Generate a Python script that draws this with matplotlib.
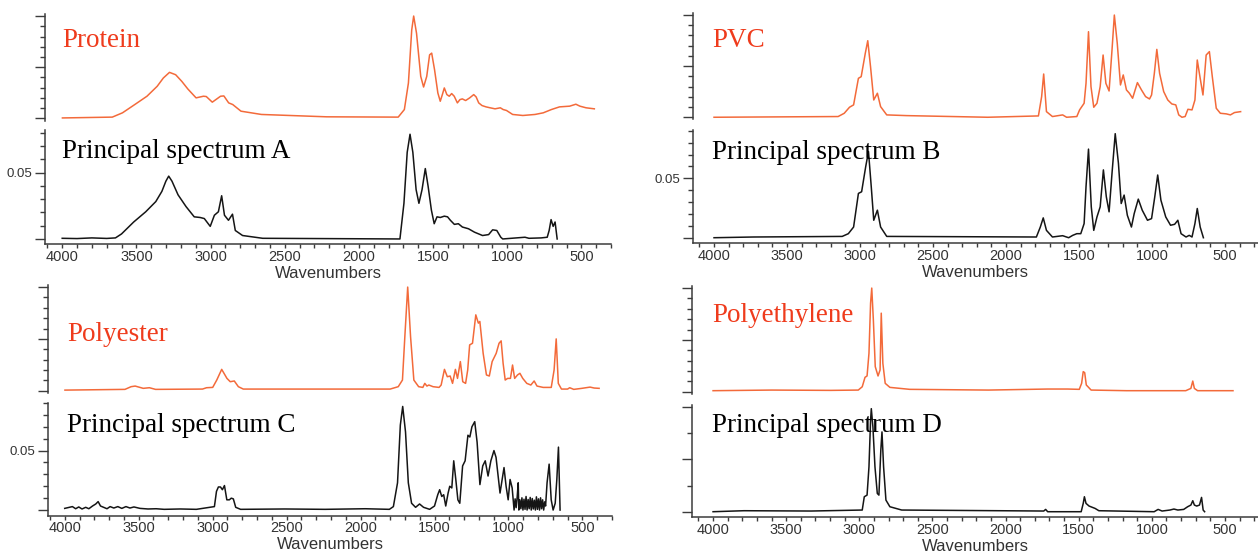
import numpy as np
import matplotlib
matplotlib.use("Agg")
import matplotlib.pyplot as plt
from matplotlib.ticker import FixedLocator, NullFormatter
from matplotlib.transforms import Bbox, TransformedBbox

W, H = 1258, 555

# reference spectra (orange), normalised absorbance
protein_wn = [4000, 3668, 3600, 3518, 3437, 3369, 3328, 3287, 3246, 3205, 3165, 3110, 3061, 3042, 3002,
              2947, 2925, 2893, 2866, 2811, 2675, 2240, 1764, 1723, 1696, 1674, 1661, 1642, 1614, 1595,
              1574, 1555, 1541, 1522, 1500, 1484, 1470, 1457, 1440, 1424, 1408, 1391, 1370, 1353, 1337,
              1315, 1288, 1261, 1245, 1228, 1206, 1179, 1152, 1119, 1084, 1065, 1043, 1002, 934, 853,
              798, 744, 690, 622, 581, 554, 513, 458]
protein_abs = [0.005, 0.013, 0.055, 0.136, 0.217, 0.314, 0.395, 0.450, 0.427, 0.362, 0.288, 0.201, 0.217,
               0.214, 0.159, 0.217, 0.220, 0.152, 0.136, 0.071, 0.039, 0.016, 0.013, 0.087, 0.346, 0.864,
               1.0, 0.832, 0.411, 0.307, 0.411, 0.621, 0.638, 0.476, 0.249, 0.168, 0.233, 0.298, 0.233,
               0.217, 0.243, 0.217, 0.152, 0.184, 0.191, 0.175, 0.201, 0.233, 0.210, 0.152, 0.126, 0.113,
               0.104, 0.094, 0.104, 0.087, 0.078, 0.039, 0.029, 0.039, 0.055, 0.087, 0.113, 0.120, 0.139,
               0.120, 0.104, 0.094]

pvc_wn = [4000, 3150, 3108, 3072, 3044, 3011, 2992, 2964, 2947, 2928, 2906, 2881, 2859, 2817, 2679, 2125,
          1778, 1756, 1742, 1723, 1682, 1612, 1585, 1515, 1496, 1465, 1452, 1435, 1418, 1399, 1377, 1355,
          1335, 1316, 1294, 1274, 1258, 1238, 1216, 1197, 1175, 1155, 1133, 1100, 1072, 1044, 1017, 1003,
          984, 967, 948, 920, 892, 864, 837, 817, 795, 773, 754, 726, 706, 690, 670, 651, 629, 607, 587,
          560, 532, 491, 463, 435, 393]
pvc_abs = [0.0, 0.007, 0.039, 0.098, 0.121, 0.381, 0.397, 0.625, 0.749, 0.495, 0.169, 0.235, 0.104, 0.023,
           0.016, 0.0, 0.013, 0.202, 0.423, 0.055, 0.007, 0.023, 0.0, 0.007, 0.072, 0.137, 0.332, 0.837,
           0.300, 0.098, 0.137, 0.300, 0.609, 0.332, 0.257, 0.658, 1.0, 0.723, 0.316, 0.414, 0.267, 0.235,
           0.186, 0.339, 0.267, 0.202, 0.179, 0.218, 0.430, 0.664, 0.430, 0.251, 0.169, 0.130, 0.121, 0.023,
           0.0, 0.007, 0.078, 0.072, 0.169, 0.560, 0.381, 0.218, 0.609, 0.642, 0.397, 0.088, 0.039, 0.033,
           0.023, 0.046, 0.055]

polyester_wn = [4000, 3600, 3559, 3532, 3478, 3437, 3396, 3083, 3056, 3015, 2988, 2955, 2920, 2898, 2871,
                2844, 2811, 1832, 1778, 1750, 1734, 1715, 1696, 1674, 1642, 1614, 1601, 1587, 1574, 1546,
                1506, 1492, 1470, 1451, 1432, 1416, 1397, 1383, 1364, 1348, 1329, 1315, 1302, 1283, 1261,
                1244, 1234, 1212, 1190, 1171, 1152, 1125, 1106, 1092, 1079, 1065, 1049, 1030, 1016, 1002,
                983, 967, 948, 921, 894, 872, 853, 812, 758, 739, 725, 711, 690, 649, 635, 608, 554, 499,
                472, 439]
polyester_abs = [0.006, 0.013, 0.039, 0.045, 0.023, 0.029, 0.013, 0.016, 0.029, 0.032, 0.103, 0.206, 0.119,
                 0.087, 0.094, 0.039, 0.016, 0.016, 0.039, 0.103, 0.523, 1.0, 0.523, 0.103, 0.039, 0.032,
                 0.071, 0.045, 0.055, 0.039, 0.032, 0.055, 0.206, 0.135, 0.142, 0.071, 0.206, 0.119, 0.281,
                 0.087, 0.071, 0.2, 0.442, 0.458, 0.732, 0.652, 0.668, 0.361, 0.152, 0.142, 0.281, 0.361,
                 0.458, 0.481, 0.265, 0.103, 0.119, 0.119, 0.248, 0.119, 0.152, 0.168, 0.119, 0.071, 0.055,
                 0.094, 0.045, 0.032, 0.032, 0.2, 0.5, 0.071, 0.016, 0.016, 0.029, 0.013, 0.023, 0.035,
                 0.026, 0.023]

pe_wn = [4000, 3600, 3195, 3007, 2980, 2961, 2947, 2934, 2923, 2915, 2904, 2891, 2872, 2858, 2850, 2839,
         2823, 2791, 2656, 2117, 1712, 1577, 1496, 1480, 1469, 1459, 1448, 1415, 1173, 768, 733, 720, 709,
         687, 445]
pe_abs = [0.01, 0.016, 0.013, 0.016, 0.048, 0.139, 0.152, 0.371, 0.855, 1.0, 0.694, 0.242, 0.152, 0.21,
          0.758, 0.274, 0.081, 0.042, 0.023, 0.016, 0.026, 0.026, 0.023, 0.081, 0.194, 0.184, 0.065, 0.016,
          0.01, 0.01, 0.032, 0.103, 0.032, 0.01, 0.01]

# principal spectra (black), absorbance
specA_wn = [4000, 3900, 3800, 3700, 3641, 3600, 3518, 3437, 3369, 3328, 3301, 3282, 3260, 3219, 3165, 3110,
            3070, 3042, 3002, 2974, 2947, 2925, 2906, 2879, 2852, 2833, 2784, 2648, 1723, 1696, 1674, 1655,
            1636, 1614, 1595, 1574, 1552, 1533, 1511, 1492, 1473, 1451, 1424, 1402, 1383, 1356, 1329, 1302,
            1261, 1220, 1166, 1125, 1098, 1070, 1043, 1030, 880, 853, 771, 730, 717, 704, 690, 677, 663]
specA_abs = [0.0005, 0.0003, 0.0008, 0.0004, 0.0008, 0.0038, 0.0128, 0.0205, 0.0282, 0.0359, 0.0436, 0.0474,
             0.0436, 0.0333, 0.0244, 0.0167, 0.0162, 0.0154, 0.0095, 0.0179, 0.0205, 0.0326, 0.0179, 0.0141,
             0.0187, 0.0064, 0.0026, 0.0005, 0.0, 0.0269, 0.0654, 0.079, 0.0654, 0.0372, 0.0269, 0.0372,
             0.0531, 0.0397, 0.0218, 0.0115, 0.0167, 0.0162, 0.0172, 0.0167, 0.0141, 0.011, 0.0115, 0.009,
             0.0077, 0.0051, 0.0026, 0.0033, 0.0069, 0.0064, 0.0013, 0.0, 0.0013, 0.0005, 0.0008, 0.0013,
             0.0064, 0.0146, 0.0095, 0.0128, 0.0]

specB_wn = [4000, 3731, 3122, 3080, 3044, 3011, 2989, 2961, 2942, 2923, 2906, 2881, 2859, 2817, 1792, 1765,
            1745, 1723, 1682, 1612, 1571, 1543, 1515, 1488, 1465, 1452, 1435, 1416, 1399, 1377, 1355, 1333,
            1313, 1294, 1274, 1252, 1230, 1211, 1191, 1169, 1141, 1122, 1094, 1067, 1031, 1003, 981, 961,
            939, 906, 873, 845, 823, 801, 767, 745, 726, 706, 690, 670, 648]
specB_abs = [0.0, 0.0006, 0.0011, 0.0034, 0.009, 0.0373, 0.0387, 0.0599, 0.0726, 0.0429, 0.0147, 0.0232,
             0.009, 0.0011, 0.0006, 0.009, 0.0167, 0.0062, 0.0006, 0.0017, 0.0, 0.002, 0.0034, 0.0034,
             0.0119, 0.0429, 0.0746, 0.026, 0.0062, 0.0175, 0.026, 0.0571, 0.0345, 0.0218, 0.0542, 0.0876,
             0.0627, 0.0288, 0.0359, 0.0189, 0.009, 0.0203, 0.0325, 0.0232, 0.0147, 0.0161, 0.0345, 0.0528,
             0.0316, 0.0175, 0.0105, 0.0113, 0.0147, 0.0034, 0.0006, 0.002, 0.0006, 0.0119, 0.0246, 0.009,
             0.0]

specC_wn = [4000, 3948, 3926, 3905, 3883, 3858, 3837, 3812, 3790, 3774, 3758, 3736, 3714, 3693, 3668, 3641,
            3614, 3586, 3559, 3532, 3491, 3437, 3382, 3328, 3219, 3110, 2988, 2974, 2961, 2947, 2934, 2920,
            2904, 2887, 2874, 2860, 2844, 2811, 2512, 2240, 1968, 1805, 1778, 1750, 1731, 1715, 1696, 1677,
            1655, 1628, 1601, 1574, 1533, 1500, 1478, 1465, 1451, 1438, 1424, 1408, 1397, 1383, 1370, 1356,
            1342, 1329, 1310, 1293, 1274, 1261, 1247, 1228, 1212, 1193, 1174, 1157, 1138, 1119, 1098, 1084,
            1070, 1057, 1043, 1030, 1016, 1002, 989, 975,
            962, 955, 948, 941, 934, 930, 923, 916, 909, 902, 895, 888, 881, 874, 867, 860, 853, 846, 839,
            832, 825, 818, 811, 804, 797, 790, 783, 776, 769, 762, 755, 749,
            739, 725, 711, 698, 684, 673, 662, 651]
specC_abs = [0.0014, 0.0029, 0.0011, 0.0026, 0.0009, 0.0023, 0.0011, 0.0034, 0.0051, 0.0071, 0.0034, 0.0023,
             0.0011, 0.0029, 0.0017, 0.0029, 0.0014, 0.0029, 0.0017, 0.0026, 0.0014, 0.0009, 0.0011, 0.0006,
             0.0009, 0.0006, 0.0029, 0.0157, 0.0194, 0.0194, 0.0171, 0.0206, 0.0086, 0.0086, 0.01, 0.0094,
             0.0023, 0.0006, 0.0009, 0.0006, 0.0011, 0.0006, 0.0029, 0.0229, 0.0714, 0.0871, 0.0657, 0.0229,
             0.0057, 0.0023, 0.0051, 0.0023, 0.0006, 0.0034, 0.0129, 0.0171, 0.0114, 0.0129, 0.0034, 0.0143,
             0.02, 0.0186, 0.0414, 0.0257, 0.0086, 0.0057, 0.0371, 0.0414, 0.0629, 0.0614, 0.07, 0.0743,
             0.0571, 0.0214, 0.0371, 0.0414, 0.0286, 0.0414, 0.05, 0.0443, 0.0286, 0.0143, 0.0257, 0.0357,
             0.02, 0.0086, 0.0257, 0.0186,
             0.0, 0.0094, 0.002, 0.011, 0.0229, 0.0, 0.0086, 0.0011, 0.0103, 0.0, 0.0091, 0.0006, 0.0114,
             0.0, 0.0089, 0.0011, 0.0106, 0.0, 0.0097, 0.0009, 0.0083, 0.0, 0.0111, 0.0006, 0.0094, 0.0,
             0.0103, 0.0011, 0.0086, 0.0, 0.0069, 0.0034,
             0.0229, 0.0386, 0.0086, 0.0, 0.0057, 0.0257, 0.0529, 0.0]

specD_wn = [4000, 3789, 3330, 2980, 2966, 2947, 2934, 2923, 2918, 2907, 2893, 2877, 2866, 2853, 2845, 2834,
            2818, 2791, 2710, 1739, 1726, 1712, 1483, 1469, 1461, 1450, 1429, 1388, 1362, 984, 957, 930,
            876, 849, 822, 782, 755, 733, 720, 709, 693, 674, 660, 649, 639]
specD_abs = [0.0, 0.0019, 0.0013, 0.0032, 0.0286, 0.0317, 0.0857, 0.1746, 0.1968, 0.1619, 0.0857, 0.0349,
             0.0317, 0.1175, 0.1524, 0.0857, 0.0222, 0.0095, 0.0032, 0.0013, 0.0044, 0.0, 0.0, 0.0159,
             0.0286, 0.0159, 0.0108, 0.0063, 0.0019, 0.0, 0.0044, 0.0013, 0.0032, 0.0051, 0.0032, 0.0044,
             0.0095, 0.0127, 0.021, 0.0127, 0.0108, 0.0127, 0.0273, 0.0032, 0.0]

x_major = [4000, 3500, 3000, 2500, 2000, 1500, 1000, 500]
x_minor = [v for v in range(300, 4200, 100) if v % 500]

ORANGE = '#f36a3a'
RED_TEXT = '#ef3b1c'
INK = '#151515'
AXIS = '#3c3c3c'
LABEL = '#333333'

plt.rcParams['font.family'] = 'Liberation Sans'


def px_rect(x0, y0, x1, y1):
    return [x0 / W, 1 - y1 / H, (x1 - x0) / W, (y1 - y0) / H]


def style_left(ax):
    for s in ['top', 'right']:
        ax.spines[s].set_visible(False)
    ax.spines['left'].set_color(AXIS)
    ax.spines['left'].set_linewidth(1.1)
    ax.tick_params(axis='y', which='major', direction='out', length=7.5, width=1.0,
                   color=AXIS, labelsize=9.5, labelcolor=LABEL, pad=2)
    ax.tick_params(axis='y', which='minor', direction='out', length=3.8, width=1.0, color=AXIS)
    ax.patch.set_visible(False)


""" orange reference spectrum, left axis only
"""
def reference_axes(fig, rect, xlim, wn, vals):
    ax = fig.add_axes(px_rect(*rect))
    style_left(ax)
    ax.spines['bottom'].set_visible(False)
    ax.set_xticks([])
    ax.plot(wn, vals, color=ORANGE, lw=1.1)
    ax.set_xlim(xlim)
    ax.set_ylim(-0.02, 1.02)
    ax.yaxis.set_major_locator(FixedLocator([0, 0.5, 1.0]))
    ax.yaxis.set_minor_locator(FixedLocator([0.1, 0.2, 0.3, 0.4, 0.6, 0.7, 0.8, 0.9]))
    ax.yaxis.set_major_formatter(NullFormatter())
    return ax


""" black principal spectrum with wavenumber axis
"""
def principal_axes(fig, rect, xlim, ylim, wn, vals, yticks, ylabels, yminor, clip_x):
    ax = fig.add_axes(px_rect(*rect))
    style_left(ax)
    ax.spines['bottom'].set_color(AXIS)
    ax.spines['bottom'].set_linewidth(1.1)
    ax.plot(wn, vals, color=INK, lw=1.1)
    ax.set_xlim(xlim)
    ax.set_ylim(ylim)
    ax.set_xticks(x_major, labels=[str(v) for v in x_major])
    ax.set_xticks(x_minor, minor=True)
    ax.tick_params(axis='x', which='both', direction='out', length=3.2, width=1.0,
                   color=AXIS, labelsize=10.5, labelcolor=LABEL, pad=0.8)
    ax.set_yticks(yticks, labels=ylabels)
    ax.set_yticks(yminor, minor=True)
    ax.set_xlabel('Wavenumbers', fontsize=12, color=LABEL, labelpad=1.5)
    clip = TransformedBbox(Bbox.from_extents(clip_x / W, 0, 1, 1), fig.transFigure)
    for lbl in ax.get_yticklabels():
        lbl.set_clip_box(clip)
        lbl.set_clip_on(True)
    return ax


def label(fig, x, y, text, color):
    fig.text(x / W, 1 - y / H, text, color=color, fontsize=19.5,
             family='Liberation Serif', va='baseline', ha='left')


fig = plt.figure(figsize=(W / 100, H / 100), dpi=100)

minor_a = [0.01, 0.02, 0.03, 0.04, 0.06, 0.07, 0.08]
minor_bc = [0.01, 0.02, 0.03, 0.04, 0.06, 0.07, 0.08, 0.09]

# panel A: protein
reference_axes(fig, (45, 14, 611, 120.5), (4116, 347), protein_wn, protein_abs)
principal_axes(fig, (45, 130, 611, 244), (4116, 347), (-0.0038, 0.0822),
               specA_wn, specA_abs, [0, 0.05], ['', '0.05'], minor_a, 7)

# panel B: PVC
reference_axes(fig, (693, 13, 1258, 119.3), (4144, 274), pvc_wn, pvc_abs)
principal_axes(fig, (693, 130, 1258, 243.3), (4144, 274), (-0.0047, 0.0907),
               specB_wn, specB_abs, [0, 0.05], ['', '0.05'], minor_bc, 655)

# panel C: polyester
reference_axes(fig, (48, 285, 612, 392.8), (4113, 353), polyester_wn, polyester_abs)
principal_axes(fig, (48, 403, 612, 515.7), (4113, 353), (-0.00475, 0.0892),
               specC_wn, specC_abs, [0, 0.05], ['', '0.05'], minor_bc, 7)

# panel D: polyethylene
reference_axes(fig, (692, 286, 1258, 393.8), (4144, 274), pe_wn, pe_abs)
principal_axes(fig, (692, 405, 1258, 517), (4144, 274), (-0.0101, 0.2038),
               specD_wn, specD_abs, [0, 0.1, 0.2], ['', '', ''], [0.05, 0.15], 0)

label(fig, 62, 46.7, 'Protein', RED_TEXT)
label(fig, 62, 158.5, 'Principal spectrum A', 'black')
label(fig, 712, 46.7, 'PVC', RED_TEXT)
label(fig, 712, 159, 'Principal spectrum B', 'black')
label(fig, 67, 341, 'Polyester', RED_TEXT)
label(fig, 67, 432, 'Principal spectrum C', 'black')
label(fig, 712, 322, 'Polyethylene', RED_TEXT)
label(fig, 712, 432, 'Principal spectrum D', 'black')

fig.savefig('out.png', dpi=100)
